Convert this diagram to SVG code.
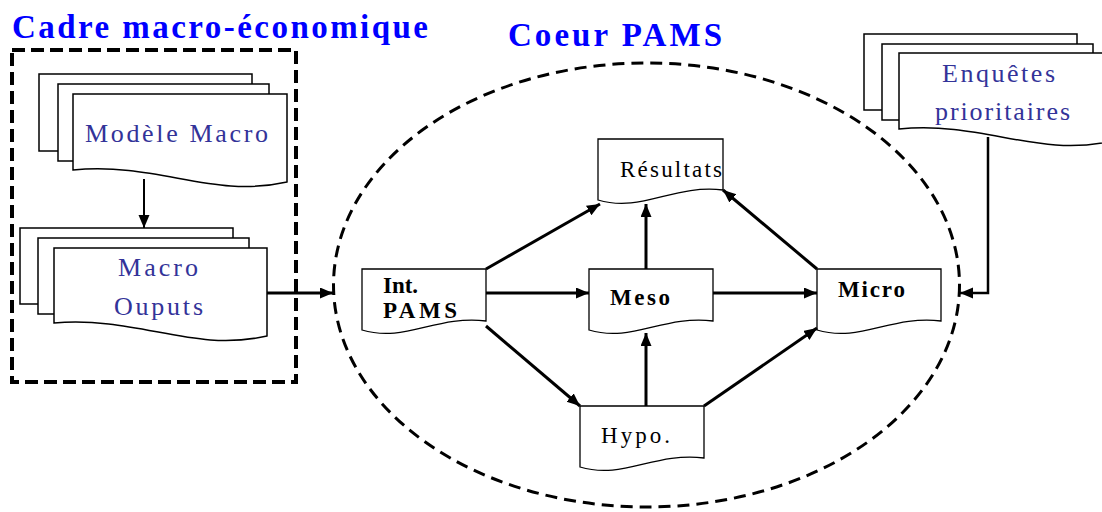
<svg xmlns="http://www.w3.org/2000/svg" width="1102" height="512" viewBox="0 0 1102 512">
<style>
.title{font-family:"Liberation Serif",serif;font-weight:bold;font-size:33px;fill:#0000FF}
.stk{font-family:"Liberation Serif",serif;font-size:26px;fill:#333399}
.nb{font-family:"Liberation Serif",serif;font-weight:bold;font-size:23px;fill:#000}
.nn{font-family:"Liberation Serif",serif;font-size:23px;fill:#000}
.sheet{fill:#fff;stroke:#000;stroke-width:1.5}
.doc{fill:#fff;stroke:#000;stroke-width:1.3}
.c{fill:none;stroke:#000;stroke-width:3}
</style>
<defs>
<marker id="ah" markerUnits="userSpaceOnUse" markerWidth="14" markerHeight="12" refX="13" refY="5.5" orient="auto">
<path d="M0,0 L13,5.5 L0,11 Z" fill="#000"/>
</marker>
</defs>
<text class="title" x="12" y="38" textLength="416" lengthAdjust="spacing">Cadre macro-économique</text>
<text class="title" x="508" y="46" textLength="214" lengthAdjust="spacing">Coeur PAMS</text>
<rect x="12" y="50" width="284" height="332" fill="none" stroke="#000" stroke-width="4" stroke-dasharray="13 6"/>
<ellipse cx="646.5" cy="285" rx="313" ry="222" fill="none" stroke="#000" stroke-width="3" stroke-dasharray="12 7"/>
<g id="modele-macro">
<rect class="sheet" x="39" y="74" width="213" height="77"/>
<rect class="sheet" x="58" y="84" width="211" height="77"/>
<path class="sheet" d="M73,94 H287 V182 C212,199 159,162 73,170 Z"/>
<text class="stk" x="85" y="142" textLength="183" lengthAdjust="spacing">Modèle Macro</text>
</g>
<g id="macro-outputs">
<rect class="sheet" x="20" y="228" width="213" height="76"/>
<rect class="sheet" x="38" y="238" width="211" height="76"/>
<path class="sheet" d="M54,248 H267 V336 C192,353 139,316 54,323 Z"/>
<text class="stk" x="118" y="276" textLength="80" lengthAdjust="spacing">Macro</text>
<text class="stk" x="114" y="315" textLength="89" lengthAdjust="spacing">Ouputs</text>
</g>
<g id="enquetes">
<rect class="sheet" x="864" y="34" width="213" height="76"/>
<rect class="sheet" x="882" y="44" width="211" height="76"/>
<path class="sheet" d="M899,53 H1112 V141 C1037,158 984,121 899,129 Z"/>
<text class="stk" x="942" y="82" textLength="113" lengthAdjust="spacing">Enquêtes</text>
<text class="stk" x="935" y="120" textLength="135" lengthAdjust="spacing">prioritaires</text>
</g>
<g id="int-pams">
<path class="doc" d="M362,269 H486 V321 C436,315 405,343 362,330 Z"/>
<text class="nb" x="383" y="293" textLength="35" lengthAdjust="spacing">Int.</text>
<text class="nb" x="383" y="318" textLength="74" lengthAdjust="spacing">PAMS</text>
</g>
<g id="meso">
<path class="doc" d="M589,269 H713 V321 C663,315 632,343 589,330 Z"/>
<text class="nb" x="610" y="305" textLength="60" lengthAdjust="spacing">Meso</text>
</g>
<g id="micro">
<path class="doc" d="M817,269 H941 V321 C891,315 860,343 817,330 Z"/>
<text class="nb" x="838" y="297" textLength="67" lengthAdjust="spacing">Micro</text>
</g>
<g id="resultats">
<path class="doc" d="M598,139 H723 V190 C673,184 642,213 598,200 Z"/>
<text class="nn" x="620" y="177" textLength="102" lengthAdjust="spacing">Résultats</text>
</g>
<g id="hypo">
<path class="doc" d="M580,406 H704 V458 C654,452 623,480 580,467 Z"/>
<text class="nn" x="601" y="443" textLength="69" lengthAdjust="spacing">Hypo.</text>
</g>
<g id="connectors">
<path class="c" style="stroke-width:2" d="M144,179 V228" marker-end="url(#ah)"/>
<path class="c" d="M267,293 H333" marker-end="url(#ah)"/>
<path class="c" style="stroke-width:2.5" d="M988,137 V293 H960" marker-end="url(#ah)"/>
<path class="c" d="M486,269 L600,204" marker-end="url(#ah)"/>
<path class="c" d="M486,293 H589" marker-end="url(#ah)"/>
<path class="c" d="M486,326 L580,406" marker-end="url(#ah)"/>
<path class="c" d="M646,269 V204" marker-end="url(#ah)"/>
<path class="c" d="M817,269 L723,190" marker-end="url(#ah)"/>
<path class="c" d="M713,293 H817" marker-end="url(#ah)"/>
<path class="c" d="M646,406 V333" marker-end="url(#ah)"/>
<path class="c" d="M704,406 L817,328" marker-end="url(#ah)"/>
</g>
</svg>
